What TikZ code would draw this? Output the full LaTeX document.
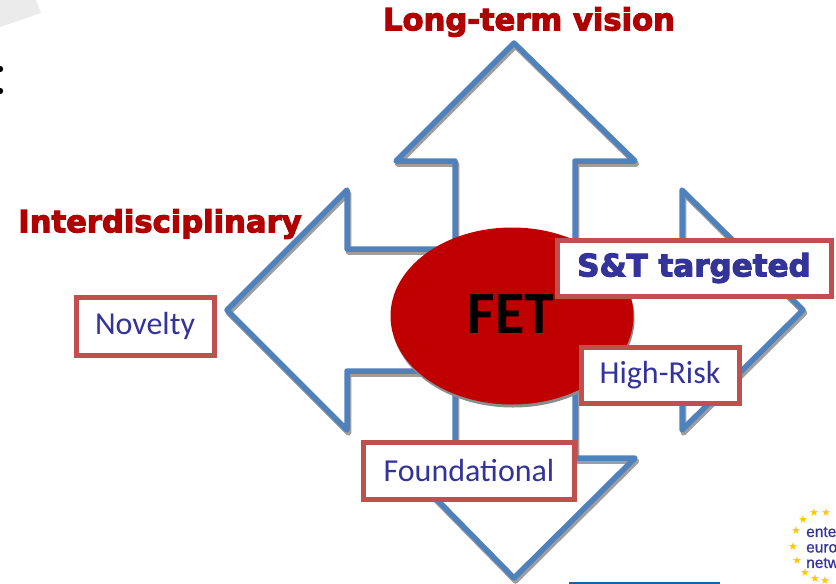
\documentclass[tikz,border=0pt]{standalone}
\usepackage{fontspec}
\setmainfont{Carlito}
\newfontfamily\heavy[FakeBold=3.5]{DejaVu Sans Bold}
\newfontfamily\logofont[FakeBold=1]{Liberation Sans}
\newfontfamily\symfont{DejaVu Sans}
\usetikzlibrary{shapes.geometric,shapes.misc}
\definecolor{arrowblue}{HTML}{4F81BD}
\definecolor{boxred}{HTML}{C0504D}
\definecolor{fetred}{HTML}{C00000}
\definecolor{textblue}{HTML}{333399}
\definecolor{headred}{HTML}{B00000}
\definecolor{stargold}{HTML}{FFC800}
\definecolor{barblue}{HTML}{1F5F9F}
\tikzset{
  labelbox/.style={draw=boxred,line width=5pt,fill=white,text=textblue,inner sep=0pt,font=\fontsize{32}{34}\selectfont,anchor=center},
  heading/.style={inner sep=0pt,anchor=center,text=headred,font=\heavy\fontsize{30.6}{32}\selectfont},
  star/.style={text=stargold,inner sep=0pt,font=\symfont\fontsize{11}{11}\selectfont},
}
\begin{document}
\begin{tikzpicture}[x=1pt,y=-1pt]
\useasboundingbox (0,0) rectangle (836,584);
\clip (0,0) rectangle (836,584);
% top-left corner remnants
\fill[black!8] (0,27) -- (41,13) -- (36,0) -- (0,0) -- cycle;
\fill[black] (0,69) circle (3.2);
\fill[black] (0,91) circle (3.2);
% cross of four arrows
\def\crosspath{(514,43) -- (635,161) -- (575,161) -- (575,249) -- (682,249) -- (682,190) -- (803,310) -- (682,430) -- (682,371) -- (575,371) -- (575,458) -- (635,458) -- (514,578) -- (396,458) -- (455,458) -- (455,371) -- (347,371) -- (347,430) -- (227,310) -- (347,190) -- (347,249) -- (455,249) -- (455,161) -- (396,161) -- cycle}
\draw[black!38,line width=5.5pt,line join=round,shift={(1.5,3)}] \crosspath;
\draw[arrowblue,line width=5.5pt,line join=round] \crosspath;
% ellipse
\node[ellipse,fill=black!45,minimum width=243pt,minimum height=177pt,inner sep=0pt] (shadow) at (513,319) {};
\node[ellipse,fill=fetred,minimum width=243pt,minimum height=177pt,inner sep=0pt] (fet) at (512,316) {};
\node[inner sep=0pt,font=\bfseries\fontsize{60}{62}\selectfont,text=black] (fetlabel) at (511,314) {FET};
% labelled boxes
\node[labelbox,minimum width=274pt,minimum height=56pt,font=\heavy\fontsize{31}{32}\selectfont] (st) at (694,268) {S\&T targeted};
\node[labelbox,minimum width=158pt,minimum height=56pt] (risk) at (660,375) {\raisebox{-4pt}{High-Risk}};
\node[labelbox,minimum width=138pt,minimum height=58pt] (novelty) at (145,326) {\raisebox{-4pt}{Novelty}};
\node[labelbox,minimum width=211pt,minimum height=57pt] (found) at (469,471) {\raisebox{-3pt}{Foundational}};
% headings
\node[heading] (vision) at (529,22) {Long-term vision};
\node[heading] (inter) at (160,224) {Interdisciplinary};
% logo
\foreach \x/\y in {814/513,826/513,803/520,796/531,793/547,797/561,805/573,815/579,825/581}
  \node[star] at (\x,\y) {★};
\node[inner sep=0pt,anchor=west,text=textblue,font=\logofont\fontsize{15.5}{15.5}\selectfont,align=left] (logo) at (806,547.5) {enter\\euro\\netw};
% bottom bar
\fill[barblue] (569,581.5) rectangle (720,584);
\end{tikzpicture}
\end{document}
